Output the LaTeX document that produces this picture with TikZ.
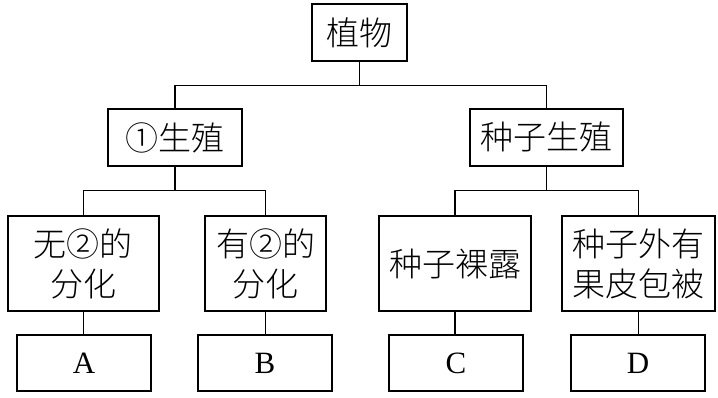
\documentclass[tikz,border=0pt]{standalone}
\usepackage{fontspec}
\usetikzlibrary{calc}
\newfontfamily\cjk{Noto Sans CJK SC}[UprightFont={* Light}]
\newfontfamily\lat{Liberation Serif}
\begin{document}
\begin{tikzpicture}[x=1pt,y=-1pt,
  box/.style={draw,line width=1.3pt,inner sep=0pt,align=center,
    font=\cjk\fontsize{33}{40}\selectfont},
  letterbox/.style={draw,line width=1.3pt,inner sep=0pt,
    font=\lat\fontsize{31}{36}\selectfont},
  link/.style={line width=1.3pt}]
\useasboundingbox (0,0) rectangle (718,397);
\node[box,minimum width=95pt,minimum height=57pt] (top) at (359.5,32.5) {植物};
\node[box,minimum width=134pt,minimum height=57pt] (l) at (175,137.5) {①生殖};
\node[box,minimum width=153pt,minimum height=57pt] (r) at (546.5,137.5) {种子生殖};
\node[box,minimum width=151pt,minimum height=95pt] (l1) at (83.5,263.5) {无②的\\分化};
\node[box,minimum width=121pt,minimum height=95pt] (l2) at (265.5,263.5) {有②的\\分化};
\node[box,minimum width=152pt,minimum height=95pt] (r1) at (455,263.5) {种子裸露};
\node[box,minimum width=153pt,minimum height=95pt] (r2) at (638.5,263.5) {种子外有\\果皮包被};
\node[letterbox,minimum width=134pt,minimum height=56pt] (a) at (84,363) {A};
\node[letterbox,minimum width=134pt,minimum height=56pt] (b) at (265,363) {B};
\node[letterbox,minimum width=134pt,minimum height=56pt] (c) at (456,363) {C};
\node[letterbox,minimum width=134pt,minimum height=56pt] (d) at (638,363) {D};
\coordinate (j0) at ($(top.south)+(0,24)$);
\draw[link] (top.south) -- (j0);
\draw[link] (l.north) |- (j0) -| (r.north);
\coordinate (j1) at ($(l.south)+(0,24)$);
\draw[link] (l.south) -- (j1);
\draw[link] (l1.north) |- (j1) -| (l2.north);
\coordinate (j2) at ($(r.south)+(0,24)$);
\draw[link] (r.south) -- (j2);
\draw[link] (r1.north) |- (j2) -| (r2.north);
\draw[link] (l1.south) -- (l1.south |- a.north);
\draw[link] (l2.south) -- (l2.south |- b.north);
\draw[link] (r1.south) -- (r1.south |- c.north);
\draw[link] (r2.south) -- (r2.south |- d.north);
\end{tikzpicture}
\end{document}
